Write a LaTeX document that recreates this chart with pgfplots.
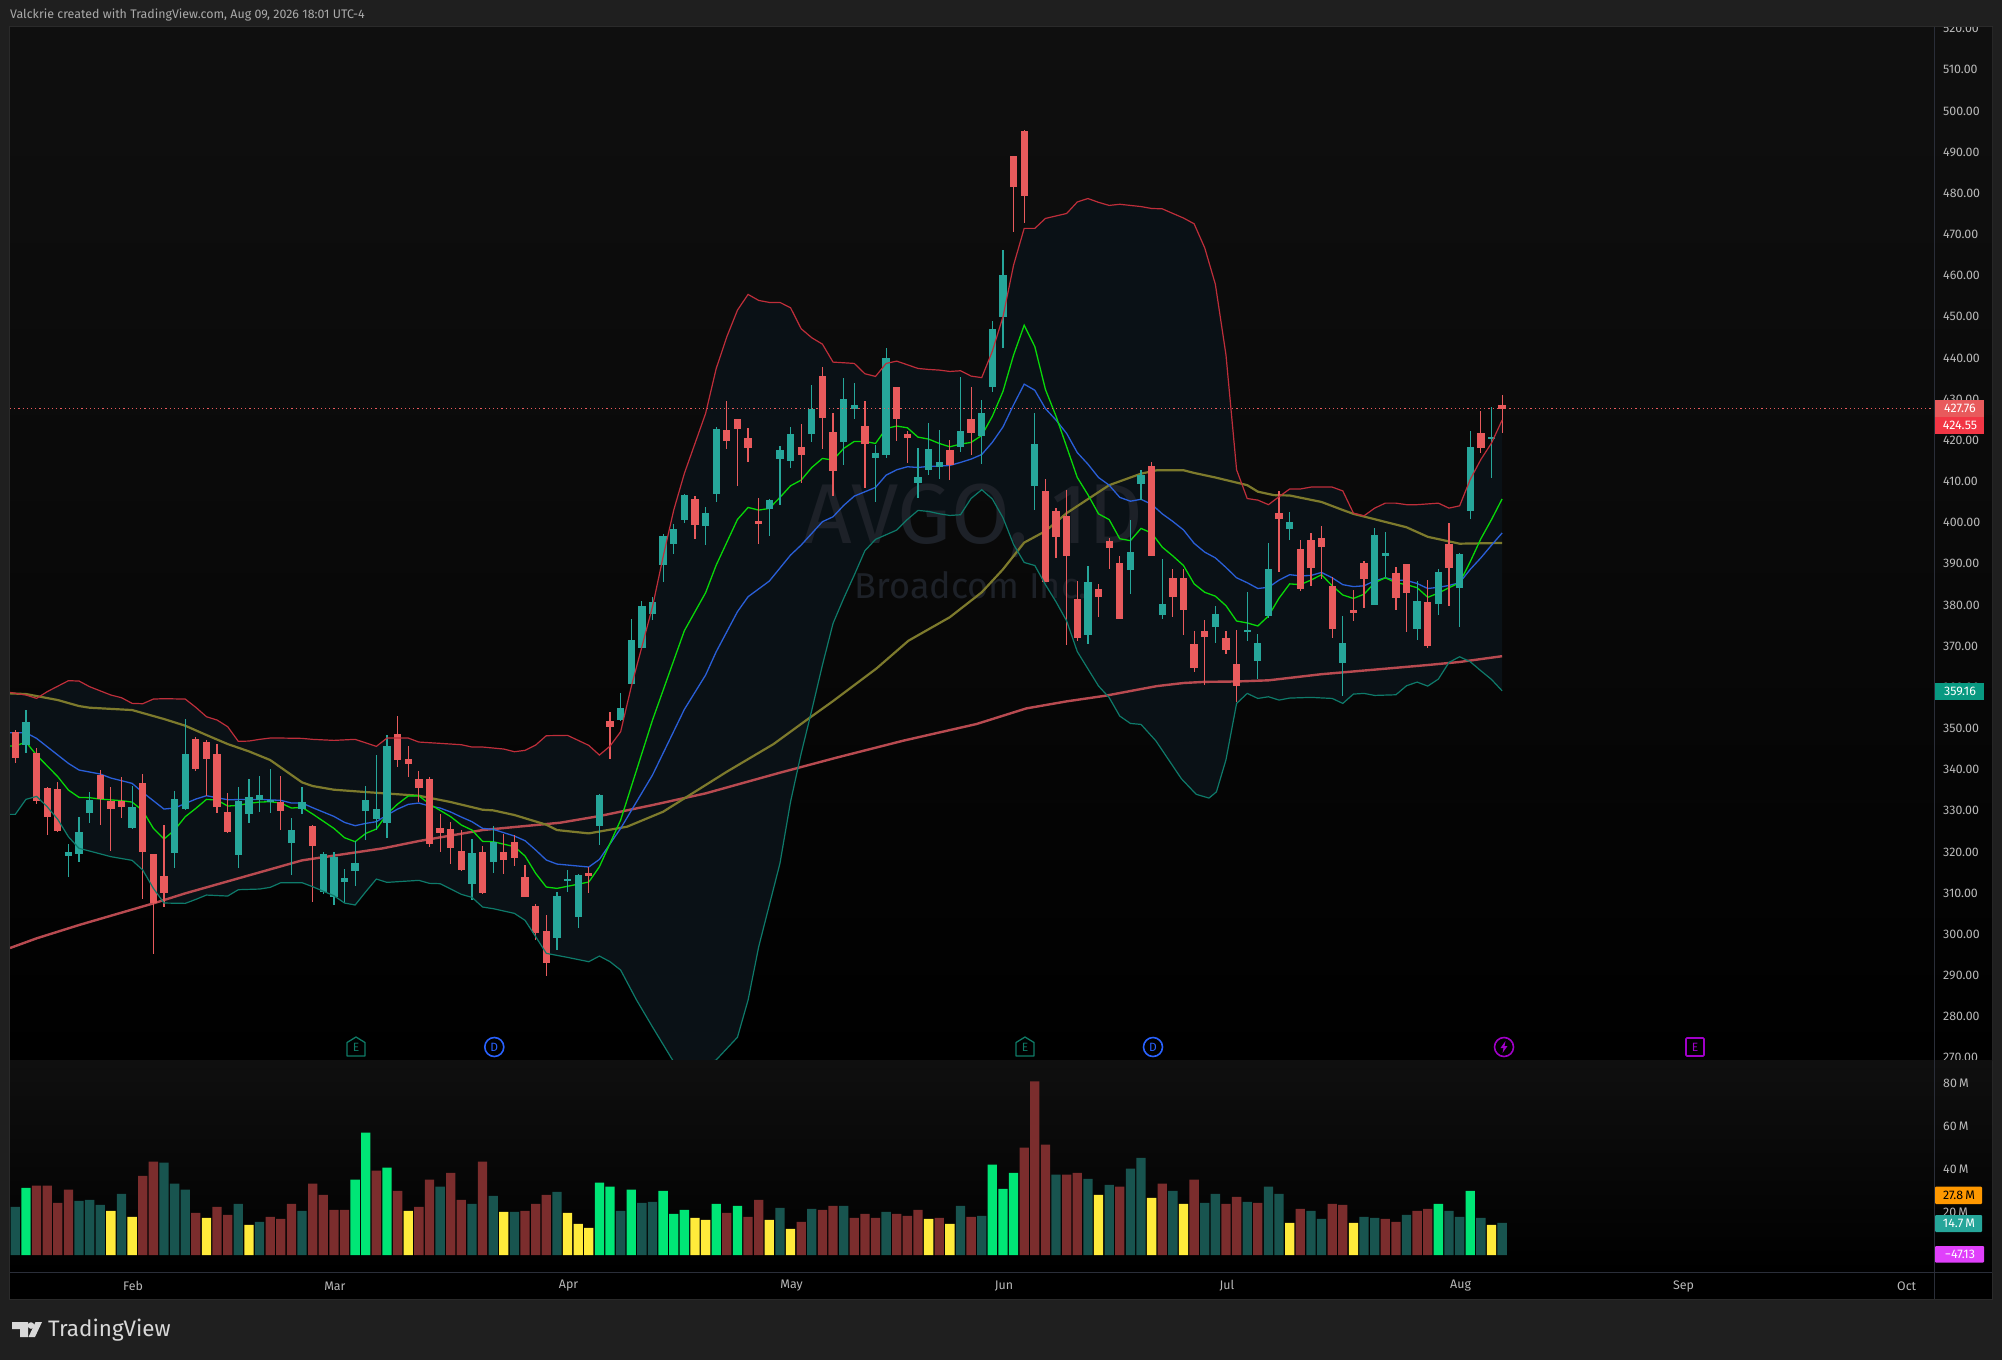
\documentclass[border=0pt]{standalone}
\usepackage{pgfplots}
\usepackage{pgfplotstable}
\pgfplotsset{compat=1.18}
\usepackage{fontspec}
\setmainfont{Fira Sans}
\definecolor{frame}{HTML}{1F1F1F}
\definecolor{edge}{HTML}{2A2A2A}
\definecolor{sep}{HTML}{2A2E39}
\definecolor{paneT}{HTML}{0F0F0F}
\definecolor{cR}{HTML}{E85A5C}
\definecolor{cG}{HTML}{26A69A}
\definecolor{upc}{HTML}{BE2E3A}
\definecolor{loc}{HTML}{0E7A6A}
\definecolor{blu}{HTML}{2A5FD8}
\definecolor{grn}{HTML}{08D808}
\definecolor{oli}{HTML}{7D7A2C}
\definecolor{ma}{HTML}{B84A50}
\definecolor{bandf}{HTML}{0A1116}
\definecolor{wm}{HTML}{1D2128}
\definecolor{vdg}{HTML}{18544F}
\definecolor{vdr}{HTML}{7B2D2D}
\definecolor{vbg}{HTML}{00E676}
\definecolor{vyl}{HTML}{FFEB3B}
\definecolor{tick}{HTML}{B8B8B8}
\definecolor{lblr}{HTML}{F23645}
\definecolor{lblg}{HTML}{089981}
\definecolor{lblo}{HTML}{FF9800}
\definecolor{lblm}{HTML}{E040FB}
\definecolor{evE}{HTML}{0F7A66}
\definecolor{evD}{HTML}{2962FF}
\definecolor{evP}{HTML}{A000C8}
\definecolor{footer}{HTML}{D8D8D8}
\pgfplotstableread{
i h t b l
1 354.48 351.57 345.98 344.12
5 321.93 319.99 319.02 314.00
6 328.49 324.85 319.50 317.56
7 334.56 332.62 329.46 327.03
11 336.02 330.92 325.82 325.58
15 334.81 332.86 319.75 316.10
16 352.30 343.79 330.43 330.19
21 335.78 332.38 319.26 316.10
22 337.72 333.35 329.22 327.03
23 338.45 333.84 332.62 329.71
24 340.15 332.62 332.05 329.46
26 328.25 325.33 322.18 314.40
27 335.78 332.13 330.43 329.22
29 319.99 319.50 310.27 309.79
30 319.99 318.77 309.06 307.12
31 315.86 313.67 312.70 307.60
32 322.66 317.32 315.37 311.73
33 336.02 332.62 329.95 322.90
34 343.55 330.43 328.01 325.33
35 348.41 345.74 327.03 323.39
43 323.15 319.75 312.22 308.33
45 326.31 322.50 317.56 314.89
51 310.27 309.30 299.10 296.18
52 315.62 313.43 313.19 310.27
53 314.65 314.40 304.20 301.53
55 333.99 333.83 326.30 321.69
57 358.61 354.96 352.05 351.73
58 376.50 371.48 360.79 360.79
59 380.96 379.74 369.54 369.54
60 382.01 380.71 377.80 376.34
61 397.23 396.75 389.70 385.57
62 399.66 398.45 394.80 392.37
63 406.90 406.70 400.63 400.00
65 403.70 402.25 399.20 394.60
66 423.21 422.73 406.94 405.07
71 405.70 405.48 403.30 396.70
72 418.60 417.63 415.44 404.27
73 423.21 421.51 414.95 413.25
75 433.41 427.58 421.51 419.57
78 435.11 430.01 419.57 413.98
79 433.90 428.56 427.58 425.16
81 418.84 416.90 415.68 404.99
82 442.40 439.97 416.41 415.68
85 418.11 411.07 409.61 405.97
86 424.18 417.87 412.77 411.55
87 422.48 414.71 413.50 410.58
89 435.36 422.24 418.35 417.14
91 429.75 426.59 421.01 414.31
92 448.99 447.04 432.91 431.70
93 466.19 460.14 449.92 442.39
96 426.59 419.06 408.83 403.07
101 389.45 385.56 372.69 370.50
105 400.62 392.85 388.48 382.65
106 412.77 411.55 409.37 405.48
108 391.15 380.22 377.55 376.57
113 379.73 377.79 374.63 370.74
116 383.13 373.90 373.50 371.23
117 372.93 370.74 366.37 362.00
118 395.04 388.72 377.30 376.82
120 402.57 400.14 398.44 395.76
125 377.30 370.74 365.89 357.87
128 398.68 396.98 379.98 379.98
129 397.71 392.61 391.88 386.78
132 385.80 380.95 374.15 371.47
134 388.72 387.99 380.22 377.55
136 392.61 392.36 384.10 374.63
137 422.24 418.36 402.81 400.87
139 428.07 420.78 420.46 410.82
}\greencandles
\pgfplotstableread{
i h t b l
0 349.62 349.14 342.90 341.69
2 345.17 343.96 332.38 331.65
3 335.70 335.54 328.49 324.12
4 336.99 335.29 325.01 324.85
8 339.91 338.69 332.86 326.55
9 335.78 332.38 330.43 320.23
10 338.21 332.38 330.92 328.25
12 338.94 336.75 319.99 308.57
13 319.50 319.50 307.60 295.21
14 326.55 314.16 310.03 306.63
17 347.92 347.44 340.15 339.67
18 347.20 346.71 342.58 333.59
19 346.22 343.79 330.92 329.46
20 334.32 329.71 324.85 324.60
25 338.45 332.13 329.95 325.33
28 326.55 326.31 321.45 307.84
36 353.03 348.65 342.34 340.64
37 345.74 342.58 341.37 338.21
38 339.67 337.72 335.54 332.13
39 338.21 337.72 321.93 321.20
40 329.22 325.82 324.60 319.99
41 327.28 325.58 320.96 317.07
42 325.33 320.23 315.62 315.37
44 321.45 319.99 310.03 309.79
46 324.36 319.99 318.05 314.65
47 324.12 322.42 318.53 316.59
48 316.83 313.92 309.06 309.06
49 307.36 306.87 300.31 298.61
50 304.69 300.80 293.03 289.87
54 316.42 314.88 314.16 310.11
56 353.99 351.81 350.35 342.58
64 406.40 405.70 399.40 396.00
67 429.53 422.48 419.81 417.87
68 425.16 425.16 422.73 408.88
69 422.97 420.54 418.11 414.71
70 405.97 400.39 399.66 394.80
74 423.94 418.35 416.41 409.61
76 437.79 435.60 425.40 417.87
77 426.61 422.00 412.52 406.45
80 429.53 423.46 419.08 408.39
83 432.93 432.93 425.16 419.81
84 422.24 421.51 420.54 414.47
88 420.05 417.63 413.98 410.34
90 432.93 425.16 421.75 416.41
94 489.05 489.05 481.53 470.56
95 495.28 495.10 479.29 472.79
97 410.50 407.62 385.59 385.59
98 403.50 402.81 396.57 391.47
99 407.91 401.59 391.96 370.26
100 385.80 381.43 371.96 371.23
102 385.08 383.86 381.92 377.06
103 396.25 395.52 393.82 388.72
104 391.88 390.18 376.57 376.57
107 414.71 413.74 391.88 391.88
109 388.72 386.53 381.92 377.06
110 388.72 386.53 378.76 372.69
111 373.66 370.50 364.67 363.70
112 376.33 373.66 372.20 360.54
114 373.66 371.96 369.04 368.07
115 373.90 365.64 360.30 356.41
119 407.67 402.32 400.87 387.99
121 395.76 393.58 383.86 383.38
122 397.46 395.76 388.96 384.59
123 399.17 396.25 394.06 386.29
124 386.70 384.59 374.15 371.96
126 383.62 378.76 378.03 376.09
127 390.66 390.18 386.29 379.25
130 389.21 387.75 381.68 378.76
131 389.93 389.93 382.89 373.42
133 386.05 380.70 370.02 369.53
135 399.89 394.79 388.96 379.73
138 427.10 421.76 418.11 416.90
140 430.99 428.56 427.59 421.76
}\redcandles
\pgfplotstableread{
i p
-0.5 358.77
1 358.13
2 357.32
3 358.94
5 361.61
6 361.53
7 360.15
9 358.13
10 357.48
11 356.10
12 356.02
13 357.15
14 357.24
16 357.15
17 355.13
18 352.86
19 352.05
20 350.43
21 346.87
22 346.95
23 347.36
24 347.68
25 347.68
27 347.60
28 347.36
30 347.11
32 347.36
34 345.66
35 347.68
37 347.68
38 346.71
40 346.39
42 346.06
43 345.50
44 345.50
46 345.01
47 344.36
48 344.69
49 345.98
50 348.25
52 348.33
54 345.90
55 343.55
56 345.73
57 349.22
58 360.15
59 369.86
60 379.58
61 391.73
62 403.06
63 411.96
64 419.24
65 426.53
66 437.46
67 445.16
68 451.63
69 455.44
70 453.98
71 453.50
72 453.50
73 452.20
74 447.10
75 444.91
76 443.37
77 439.00
78 438.84
79 438.68
80 436.17
81 435.52
82 438.68
83 439.24
84 438.35
85 437.46
86 437.22
87 437.06
88 436.73
89 436.90
90 435.60
91 435.23
92 441.65
93 450.01
94 462.56
95 471.49
96 471.49
97 473.90
99 475.11
100 477.90
101 478.74
102 477.81
103 477.06
104 477.34
106 476.78
107 476.32
108 476.23
109 475.11
110 474.00
111 472.60
112 466.74
113 457.91
114 440.76
115 412.83
116 405.86
117 405.48
118 404.37
119 406.32
120 408.18
121 408.18
122 408.64
124 408.64
125 407.71
126 402.32
127 401.67
128 403.53
129 404.74
130 404.74
131 404.37
132 404.37
134 404.74
135 403.53
136 404.09
137 410.50
138 415.34
139 419.33
140 424.91
}\upperband
\pgfplotstableread{
i p
-0.5 329.14
0 329.14
1 332.78
2 333.51
3 331.00
4 327.92
5 323.71
6 320.88
7 320.23
9 318.86
11 317.97
12 315.62
13 311.16
14 307.60
16 307.52
17 308.49
18 309.54
20 309.30
21 310.84
23 311.00
24 311.41
25 312.54
27 312.54
28 311.57
30 309.38
31 307.60
32 307.12
33 310.35
34 313.43
35 312.62
38 313.11
39 312.38
40 312.30
42 309.71
43 308.98
44 306.63
45 306.23
47 305.09
48 303.39
49 299.42
50 295.38
52 294.40
54 293.35
55 294.72
56 293.35
57 291.32
58.5 284.03
60 277.50
62 269.00
64 267.50
66 269.50
68 275.00
69 284.03
70 296.99
72 317.23
73 332.21
74 343.95
75 354.48
76 365.41
77 375.53
78 381.60
79 387.27
80 393.18
81 395.94
83 398.20
84 400.78
85 402.97
86 402.73
87 402.16
88 401.75
89 401.92
90 405.88
91 408.00
92 405.76
93 401.21
94 394.70
95 390.33
96 389.59
97 384.94
98 380.75
99 376.11
100 368.67
101 364.49
102 360.31
103 357.52
104 353.01
105 351.23
106 350.99
107.4 347.00
109.8 337.80
111.2 334.00
112.4 333.10
113.1 334.60
114 342.40
115 356.09
116 358.52
117 357.30
118 357.71
119 356.90
120 357.39
122 357.55
124 357.30
125 356.09
126 358.36
127 358.52
128 358.03
130 358.19
131 360.38
132 361.27
133 360.30
134 362.00
135 366.05
136 367.43
137 366.21
138 364.02
139 361.92
140 359.16
}\lowerband
\pgfplotstablesort[sort key=i,sort cmp=float >]{\lowerrev}{\lowerband}
\pgfplotstablevertcat{\bandoutline}{\upperband}
\pgfplotstablevertcat{\bandoutline}{\lowerrev}
\begin{document}
\begin{tikzpicture}[x=1pt,y=-1pt]
\fill[frame] (0,0) rectangle (2002,1360);
\fill[edge] (9,26) rectangle (1993,1300);
\shade[top color=paneT,bottom color=black,middle color=black!40!paneT] (10,27) rectangle (1992,1060.7);
\begin{axis}[
  at={(10pt,-1060.7pt)},anchor=south west,scale only axis,width=1924pt,height=1033.7pt,
  xmin=-0.5,xmax=180.67,ymin=269.3,ymax=520.4,
  axis line style={draw=none},major tick length=0pt,
  xtick=\empty,
  ytick={270,280,...,520},ytick pos=right,yticklabel pos=right,
  yticklabel style={font=\fontsize{12.4}{12.4}\selectfont,text=tick,anchor=west,inner sep=0pt,xshift=9pt,
    /pgf/number format/.cd,fixed,fixed zerofill,precision=2,1000 sep={},assume math mode=true},
  clip=true]
\addplot[fill=bandf,draw=none,forget plot] table[x=i,y=p]{\bandoutline};
\node[text=wm,font=\fontsize{85}{85}\selectfont] at (axis cs:90.2,400.4) {AVGO, 1D};
\node[text=wm,font=\fontsize{36}{36}\selectfont] at (axis cs:90,384.9) {Broadcom Inc.};
% SMA 200
\addplot[ma,line width=2.4pt,forget plot] coordinates {(-0.5,296.67)(2,299.02)(6,302.26)(13,307.52)(16,309.95)(27,317.97)(34.6,320.88)(38,322.66)(44,325.33)(51.3,327.11)(55,328.73)(60,331.40)(65,334.24)(72,339.26)(77.3,342.90)(83.6,347.03)(90.5,351.08)(95.2,354.88)(99,356.59)(102.7,357.98)(105,359.10)(107.5,360.30)(110,361.05)(112,361.33)(115,361.42)(118,361.70)(123,363.19)(128,364.30)(133,365.42)(136,366.16)(140,367.56)};
% SMA 50
\addplot[oli,line width=2.2pt,forget plot] coordinates {(-0.5,358.53)(1,358.37)(4,356.91)(6,355.45)(7,355.05)(11,354.48)(14,352.30)(16,350.68)(18,348.41)(20,346.22)(22,344.44)(24,342.34)(27,336.91)(28,336.02)(30,335.13)(33,334.56)(38,333.67)(41,332.13)(44,330.27)(45,330.11)(47,328.98)(50,326.63)(51,325.33)(54,324.52)(57.6,326.14)(61,329.78)(64,334.64)(67,339.50)(71.4,346.22)(74.5,352.05)(77,356.66)(81.1,364.60)(84.1,371.32)(88,377.04)(91,383.08)(93,388.66)(95,395.16)(97,397.95)(99,402.32)(103,409.11)(106,411.90)(107.5,412.73)(110,412.73)(111,412.08)(113,410.97)(116,409.11)(117,407.53)(118.5,406.69)(120,406.60)(123,405.02)(125,403.07)(126,402.14)(131,398.88)(133,396.56)(136,394.89)(140,395.07)};
% blue
\addplot[blu,line width=1.3pt,forget plot] coordinates {(-0.5,348.98)(1,348.98)(2,347.60)(4,343.55)(5,341.53)(6,339.91)(8,338.94)(9,337.97)(11,336.67)(12,334.48)(14,330.43)(15,330.68)(17,332.86)(18,333.67)(20,332.70)(23,332.78)(25,332.54)(26,331.89)(27,331.89)(28,330.76)(30,328.65)(31,327.19)(32,326.39)(33,326.95)(34,327.36)(35,328.98)(36,330.43)(37,331.57)(38,331.89)(39,331.16)(40,330.68)(41,329.71)(42,328.49)(43,327.36)(44,325.74)(45,325.50)(47,323.88)(48,322.74)(49,320.48)(50,318.05)(51,317.07)(54,316.35)(55,318.20)(57,325.73)(60,338.69)(63,354.64)(65,362.98)(66,368.65)(68,378.37)(69,382.01)(71,385.81)(73,392.13)(74,394.56)(76,400.23)(77,401.43)(78,404.18)(79,406.45)(80,407.50)(81,408.56)(82,411.55)(83,412.85)(84,413.58)(85,413.41)(86,413.66)(87,413.74)(88,413.90)(89,414.63)(90,415.44)(91,416.55)(92,419.52)(93,423.24)(94,428.63)(95,433.65)(96,432.16)(97,427.70)(98,424.91)(99,421.66)(100,417.01)(101,414.22)(102,410.97)(103,409.11)(104,406.14)(105,405.21)(106,405.67)(107,404.46)(108,402.14)(109,400.28)(110,398.23)(111,394.98)(112,392.84)(113,391.45)(114,389.12)(115,386.61)(116,385.41)(117,384.01)(118,384.29)(119,386.05)(120,387.36)(121,387.08)(122,387.17)(123,387.91)(124,386.61)(125,384.94)(126,384.47)(127,384.66)(128,385.87)(129,386.61)(130,386.05)(131,385.96)(132,385.22)(133,384.01)(134,384.29)(135,384.75)(136,385.41)(137,388.66)(138,391.45)(139,394.51)(140,397.49)};
% green
\addplot[grn,line width=1.3pt,forget plot] coordinates {(-0.5,345.74)(0,345.74)(1,346.71)(2,343.55)(4,338.29)(5,335.05)(6,333.27)(7,333.19)(8,332.86)(10,332.46)(11,332.13)(12,330.03)(13,325.74)(14,323.15)(15,325.33)(16,328.57)(17,330.60)(18,332.78)(19,332.62)(20,331.16)(21,331.33)(22,331.81)(23,332.13)(24,332.22)(25,331.89)(26,330.68)(27,330.84)(28,329.22)(30,325.74)(31,323.47)(32,322.50)(33,324.52)(34,325.58)(35,329.22)(36,331.65)(37,333.59)(38,333.67)(39,331.65)(41,328.57)(42,326.55)(43,325.33)(44,322.58)(45,322.50)(47,321.29)(48,319.02)(49,314.81)(50,311.49)(51,311.16)(54,312.70)(55,316.42)(57,327.76)(60,352.05)(63,373.75)(65,382.98)(66,389.70)(68,400.78)(69,403.70)(70,403.05)(71,403.46)(72,406.13)(73,408.96)(74,410.34)(75,413.41)(76,415.60)(77,415.20)(78,418.03)(79,419.73)(80,419.73)(81,419.24)(82,422.89)(83,423.46)(84,423.05)(85,420.78)(86,420.30)(87,419.24)(88,418.43)(89,419.08)(90,419.49)(91,421.19)(92,425.84)(93,431.88)(94,440.72)(95,447.97)(96,442.76)(97,432.35)(98,425.84)(99,418.41)(100,410.97)(101,406.79)(102,402.14)(103,400.74)(104,396.09)(105,395.63)(106,398.60)(107,397.49)(108,394.05)(109,391.91)(110,389.59)(111,385.13)(112,383.08)(113,382.15)(114,379.83)(115,376.11)(116,375.64)(117,374.90)(118,377.32)(119,381.68)(120,385.13)(121,384.94)(122,386.05)(123,387.36)(124,384.66)(125,382.43)(126,381.59)(127,382.62)(128,385.41)(129,386.61)(130,385.41)(131,384.94)(132,384.20)(133,381.87)(134,382.89)(135,384.20)(136,385.41)(137,390.52)(138,396.09)(139,400.74)(140,405.76)};
% candles: wicks and bodies, as bars from the tables
\addplot[draw=none,mark=none,forget plot,error bars/.cd,y dir=both,y explicit,error mark=none,error bar style={line width=1.2pt,cG}]
  table[x=i,y expr=(\thisrow{h}+\thisrow{l})/2,y error expr=(\thisrow{h}-\thisrow{l})/2]{\greencandles};
\addplot[draw=none,mark=none,forget plot,error bars/.cd,y dir=both,y explicit,error mark=none,error bar style={line width=7.3pt,cG}]
  table[x=i,y expr=(\thisrow{t}+\thisrow{b})/2,y error expr=(\thisrow{t}-\thisrow{b})/2]{\greencandles};
\addplot[draw=none,mark=none,forget plot,error bars/.cd,y dir=both,y explicit,error mark=none,error bar style={line width=1.2pt,cR}]
  table[x=i,y expr=(\thisrow{h}+\thisrow{l})/2,y error expr=(\thisrow{h}-\thisrow{l})/2]{\redcandles};
\addplot[draw=none,mark=none,forget plot,error bars/.cd,y dir=both,y explicit,error mark=none,error bar style={line width=7.3pt,cR}]
  table[x=i,y expr=(\thisrow{t}+\thisrow{b})/2,y error expr=(\thisrow{t}-\thisrow{b})/2]{\redcandles};
% bands
\addplot[upc,line width=1.2pt,forget plot] table[x=i,y=p]{\upperband};
\addplot[loc,line width=1.2pt,forget plot] table[x=i,y=p]{\lowerband};
% last price
\addplot[cR,line width=1pt,dash pattern=on 1.2pt off 3pt,forget plot] coordinates {(-0.5,427.76)(180.67,427.76)};
\end{axis}
% volume pane
\shade[top color=paneT,bottom color=black] (10,1060.7) rectangle (1992,1272);
\fill[black] (10,1272) rectangle (1992,1299);
\begin{axis}[
  at={(10pt,-1272pt)},anchor=south west,scale only axis,width=1924pt,height=211.3pt,
  xmin=-0.5,xmax=180.67,ymin=-7.92,ymax=90.5,
  axis line style={draw=none},major tick length=0pt,
  ytick={20,40,60,80},yticklabels={20\,M,40\,M,60\,M,80\,M},ytick pos=right,yticklabel pos=right,
  yticklabel style={font=\fontsize{12.4}{12.4}\selectfont,text=tick,anchor=west,inner sep=0pt,xshift=9pt},
  xtick={11,30,52,73,93,114,136,157,178},
  xticklabels={Feb,Mar,Apr,May,Jun,Jul,Aug,Sep,Oct},
  xticklabel style={font=\fontsize{12.4}{12.4}\selectfont,text=tick,anchor=center,inner sep=0pt,yshift=-14pt,xshift=1pt},
  ybar,bar width=9.3pt,bar shift=0pt,clip=false]
\addplot[draw=none,fill=vdg] coordinates {(0,22.4)(6,25.2)(7,25.7)(8,23.4)(10,28.5)(14,43.0)(15,33.2)(16,30.4)(21,23.8)(23,15.4)(27,20.6)(40,31.8)(43,23.8)(45,27.6)(47,20.1)(51,29.4)(57,20.6)(59,24.3)(60,24.8)(72,22.0)(75,21.5)(78,22.9)(82,20.1)(89,22.9)(91,18.2)(98,37.4)(101,35.5)(103,32.7)(105,40.2)(106,45.3)(109,29.9)(112,24.3)(113,28.5)(116,24.8)(118,31.8)(119,28.5)(122,20.6)(123,16.8)(127,17.8)(128,17.3)(131,18.7)(135,20.6)(136,17.8)(138,17.3)(140,15.0)};
\addplot[draw=none,fill=vdr] coordinates {(2,32.3)(3,32.3)(4,24.3)(5,30.4)(12,36.9)(13,43.5)(17,19.6)(19,22.4)(20,18.7)(24,17.8)(25,16.8)(26,23.8)(28,33.2)(29,28.0)(30,21.0)(31,21.0)(34,39.3)(36,29.9)(38,22.4)(39,35.1)(41,38.3)(42,25.7)(44,43.5)(48,20.6)(49,23.8)(50,28.0)(67,19.6)(69,17.8)(70,25.7)(74,15.4)(76,21.0)(77,22.9)(79,17.3)(80,19.2)(81,17.3)(83,19.2)(84,18.2)(85,21.0)(87,17.3)(90,17.8)(95,50.0)(96,80.9)(97,51.4)(99,37.4)(100,38.3)(104,31.8)(108,33.2)(111,35.1)(114,23.8)(115,27.1)(117,24.3)(121,21.5)(124,23.8)(125,23.4)(129,16.8)(130,15.4)(132,20.6)(133,21.5)};
\addplot[draw=none,fill=vbg] coordinates {(1,31.3)(32,35.1)(33,57.0)(35,40.7)(55,33.7)(56,31.8)(58,30.4)(61,29.9)(62,19.2)(63,21.0)(66,23.8)(68,22.9)(92,42.1)(93,30.8)(94,38.3)(134,23.8)(137,29.9)};
\addplot[draw=none,fill=vyl] coordinates {(9,20.6)(11,17.8)(18,17.3)(22,14.0)(37,20.6)(46,20.1)(52,19.6)(53,14.5)(54,12.6)(64,17.3)(65,16.4)(71,16.4)(73,12.2)(86,16.8)(88,14.5)(102,28.0)(107,26.6)(110,23.8)(120,15.0)(126,15.0)(139,14.0)};
\end{axis}
% frame cover and rules
\fill[frame] (0,0) rectangle (2002,26);
\fill[edge] (9,26) rectangle (1993,27);
\draw[sep,line width=1pt] (1934.5,27) -- (1934.5,1299);
\draw[sep,line width=1pt] (10,1272.5) -- (1992,1272.5);
\node[anchor=west,inner sep=0pt,text=tick!120!white,font=\fontsize{12.4}{12.4}\selectfont] at (10,15) {Valckrie created with TradingView.com, Aug 09, 2026 18:01 UTC-4};
% price labels
\fill[cR] (1935,399.7) rectangle (1984,416.7);
\fill[lblr] (1935,416.7) rectangle (1984,434);
\fill[lblg] (1935,683) rectangle (1984,700);
\node[text=white,font=\fontsize{12.4}{12.4}\selectfont,inner sep=0pt] at (1960,408.3) {427.76};
\node[text=white,font=\fontsize{12.4}{12.4}\selectfont,inner sep=0pt] at (1960,425.5) {424.55};
\node[text=white,font=\fontsize{12.4}{12.4}\selectfont,inner sep=0pt] at (1960,691.5) {359.16};
\fill[lblo,rounded corners=1pt] (1935,1186.7) rectangle (1982,1204);
\fill[cG,rounded corners=1pt] (1935,1215) rectangle (1982,1232);
\fill[lblm,rounded corners=1pt] (1935,1246) rectangle (1984,1262.7);
\node[text=black,font=\fontsize{12.4}{12.4}\selectfont,inner sep=0pt] at (1959,1195.3) {27.8\,M};
\node[text=white,font=\fontsize{12.4}{12.4}\selectfont,inner sep=0pt] at (1959,1223.5) {14.7\,M};
\node[text=white,font=\fontsize{12.4}{12.4}\selectfont,inner sep=0pt] at (1960,1254.5) {−47.13};
% event markers
\draw[evE,line width=1.3pt,line join=round] (347,1042.5) -- (356,1037) -- (365,1042.5) -- (365,1056) -- (347,1056) -- cycle;
\node[text=evE,inner sep=0pt,font=\fontsize{12}{12}\selectfont] at (356,1047.5) {E};
\draw[evD,line width=1.6pt] (494.3,1047) circle (9.5);
\node[text=evD,inner sep=0pt,font=\fontsize{12}{12}\selectfont] at (494.3,1047) {D};
\draw[evE,line width=1.3pt,line join=round] (1016,1042.5) -- (1025,1037) -- (1034,1042.5) -- (1034,1056) -- (1016,1056) -- cycle;
\node[text=evE,inner sep=0pt,font=\fontsize{12}{12}\selectfont] at (1025,1047.5) {E};
\draw[evD,line width=1.6pt] (1153,1047) circle (9.5);
\node[text=evD,inner sep=0pt,font=\fontsize{12}{12}\selectfont] at (1153,1047) {D};
\draw[evP,line width=1.6pt] (1504,1047) circle (9.5);
\fill[evP] (1505.5,1041) -- (1500.5,1048) -- (1503.5,1048) -- (1502.5,1053) -- (1507.5,1046) -- (1504.5,1046) -- cycle;
\draw[evP,line width=1.6pt,rounded corners=1pt] (1686,1038) rectangle (1704,1056);
\node[text=evP,inner sep=0pt,font=\fontsize{12}{12}\selectfont] at (1695,1047) {E};
% footer logo
\fill[footer] (12,1322) -- (28,1322) -- (28,1337) -- (20,1337) -- (20,1329) -- (12,1329) -- cycle;
\fill[footer] (31,1325.5) circle (3.3);
\fill[footer] (35.5,1322) -- (42,1322) -- (35,1337) -- (28.5,1337) -- cycle;
\node[anchor=west,inner sep=0pt,text=footer,font=\fontsize{22.4}{22.4}\selectfont] at (48,1330) {TradingView};
\end{tikzpicture}
\end{document}
